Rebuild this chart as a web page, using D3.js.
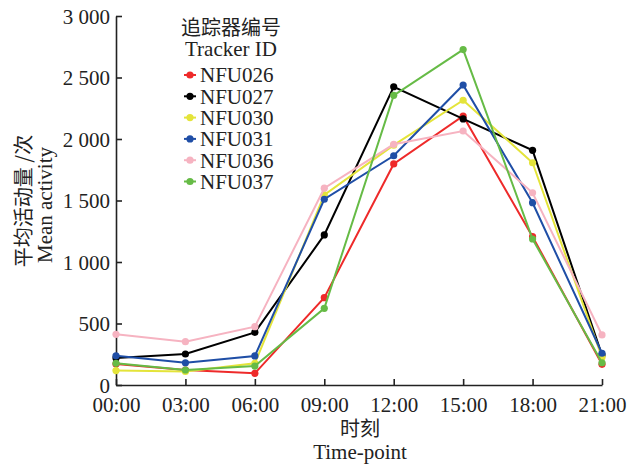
<!DOCTYPE html>
<html>
<head>
<meta charset="utf-8">
<script src="https://cdn.jsdelivr.net/npm/d3@7"></script>
<style>
  body { margin: 0; background: #fff; }
  text { font-family: "Liberation Serif", "Noto Sans CJK SC", serif; fill: #222; }
</style>
</head>
<body>
<script>
    //Declare consts/global variables
        const width = 638;
        const height = 464;
        const margin = {top: 16, right: 36, bottom: 79, left: 116};

    //Data
        const timePoints = ["00:00", "03:00", "06:00", "09:00", "12:00", "15:00", "18:00", "21:00"];
        const yTicks = [0, 500, 1000, 1500, 2000, 2500, 3000];
        const trackers = ["NFU026", "NFU027", "NFU030", "NFU031", "NFU036", "NFU037"];
        const colors = ["#ee2a2a", "#000000", "#e4e43a", "#1f4ea6", "#f6b3c1", "#66bb46"];

        const nfu026 = [170, 122, 95, 710, 1797, 2187, 1206, 168];
        const nfu027 = [220, 252, 428, 1220, 2425, 2163, 1908, 244];
        const nfu030 = [117, 110, 176, 1545, 1950, 2315, 1807, 225];
        const nfu031 = [238, 181, 236, 1510, 1864, 2439, 1482, 258];
        const nfu036 = [412, 352, 474, 1600, 1957, 2065, 1563, 407];
        const nfu037 = [176, 122, 154, 623, 2355, 2727, 1187, 181];
        const series = [nfu026, nfu027, nfu030, nfu031, nfu036, nfu037];

    //Scales
        const xScale = d3.scalePoint()
                        .domain(timePoints)
                        .range([margin.left, width - margin.right]);

        const yScale = d3.scaleLinear()
                        .domain([0, 3000])
                        .range([height - margin.bottom, margin.top]);

    //SVG
        const svg = d3.select("body")
                    .append("svg")
                    .attr("width", width)
                    .attr("height", height);

    //Axes - ticks point inward
        const bottomAxis = d3.axisBottom(xScale)
                             .tickSizeInner(-6)
                             .tickSizeOuter(0)
                             .tickPadding(12);

        const leftAxis = d3.axisLeft(yScale)
                           .tickValues(yTicks)
                           .tickFormat(d => d3.format(",")(d).replace(/,/g, " "))
                           .tickSizeInner(-6)
                           .tickSizeOuter(0)
                           .tickPadding(6);

        const gx = svg.append("g")
            .attr("transform", "translate(0," + (height - margin.bottom) + ")")
            .call(bottomAxis);

        const gy = svg.append("g")
            .attr("transform", "translate(" + margin.left + ",0)")
            .call(leftAxis);

        [gx, gy].forEach(g => {
            g.select(".domain").attr("stroke", "#222").attr("stroke-width", 1.6);
            g.selectAll(".tick line").attr("stroke", "#222").attr("stroke-width", 1.6);
            g.selectAll(".tick text").attr("font-size", 21).attr("fill", "#222")
             .style("font-family", "'Liberation Serif', serif");
        });
        gy.selectAll(".tick text").attr("dy", "0.34em");

    //Lines and points
        const line = d3.line()
                       .x((d, i) => xScale(timePoints[i]))
                       .y(d => yScale(d));

        series.forEach((vals, k) => {
            svg.append("path")
                .datum(vals)
                .attr("fill", "none")
                .attr("stroke", colors[k])
                .attr("stroke-width", 2)
                .attr("d", line);

            svg.selectAll(null)
                .data(vals)
                .enter()
                .append("circle")
                .attr("cx", (d, i) => xScale(timePoints[i]))
                .attr("cy", d => yScale(d))
                .attr("r", 3.6)
                .attr("fill", colors[k]);
        });

    //Legend
        const legend = svg.append("g");
        legend.append("text")
            .attr("x", 231).attr("y", 28).attr("dy", "0.35em")
            .attr("text-anchor", "middle").attr("font-size", 20)
            .style("font-family", "'Noto Sans CJK SC', sans-serif")
            .text("追踪器编号");
        legend.append("text")
            .attr("x", 231).attr("y", 49).attr("dy", "0.35em")
            .attr("text-anchor", "middle").attr("font-size", 21)
            .text("Tracker ID");

        const items = legend.selectAll(".item")
            .data(trackers)
            .enter()
            .append("g")
            .attr("transform", (d, i) => "translate(0," + (75 + i * 21.3) + ")");

        items.append("line")
            .attr("x1", 184).attr("x2", 196)
            .attr("stroke", (d, i) => colors[i]).attr("stroke-width", 2);
        items.append("circle")
            .attr("cx", 190).attr("r", 3.6)
            .attr("fill", (d, i) => colors[i]);
        items.append("text")
            .attr("x", 200).attr("dy", "0.35em")
            .attr("font-size", 21)
            .text(d => d);

    //Axis titles
        const yTitleX = 24;
        svg.append("text")
            .attr("transform", "translate(" + yTitleX + ",201) rotate(-90)")
            .attr("text-anchor", "middle").attr("dy", "0.35em")
            .attr("font-size", 20)
            .style("font-family", "'Noto Sans CJK SC', sans-serif")
            .text("平均活动量 /次");
        svg.append("text")
            .attr("transform", "translate(" + (yTitleX + 21) + ",205) rotate(-90)")
            .attr("text-anchor", "middle").attr("dy", "0.35em")
            .attr("font-size", 21)
            .text("Mean activity");

        svg.append("text")
            .attr("x", 360).attr("y", 429).attr("dy", "0.35em")
            .attr("text-anchor", "middle").attr("font-size", 20)
            .style("font-family", "'Noto Sans CJK SC', sans-serif")
            .text("时刻");
        svg.append("text")
            .attr("x", 360).attr("y", 452).attr("dy", "0.35em")
            .attr("text-anchor", "middle").attr("font-size", 21)
            .text("Time-point");
</script>
</body>
</html>
